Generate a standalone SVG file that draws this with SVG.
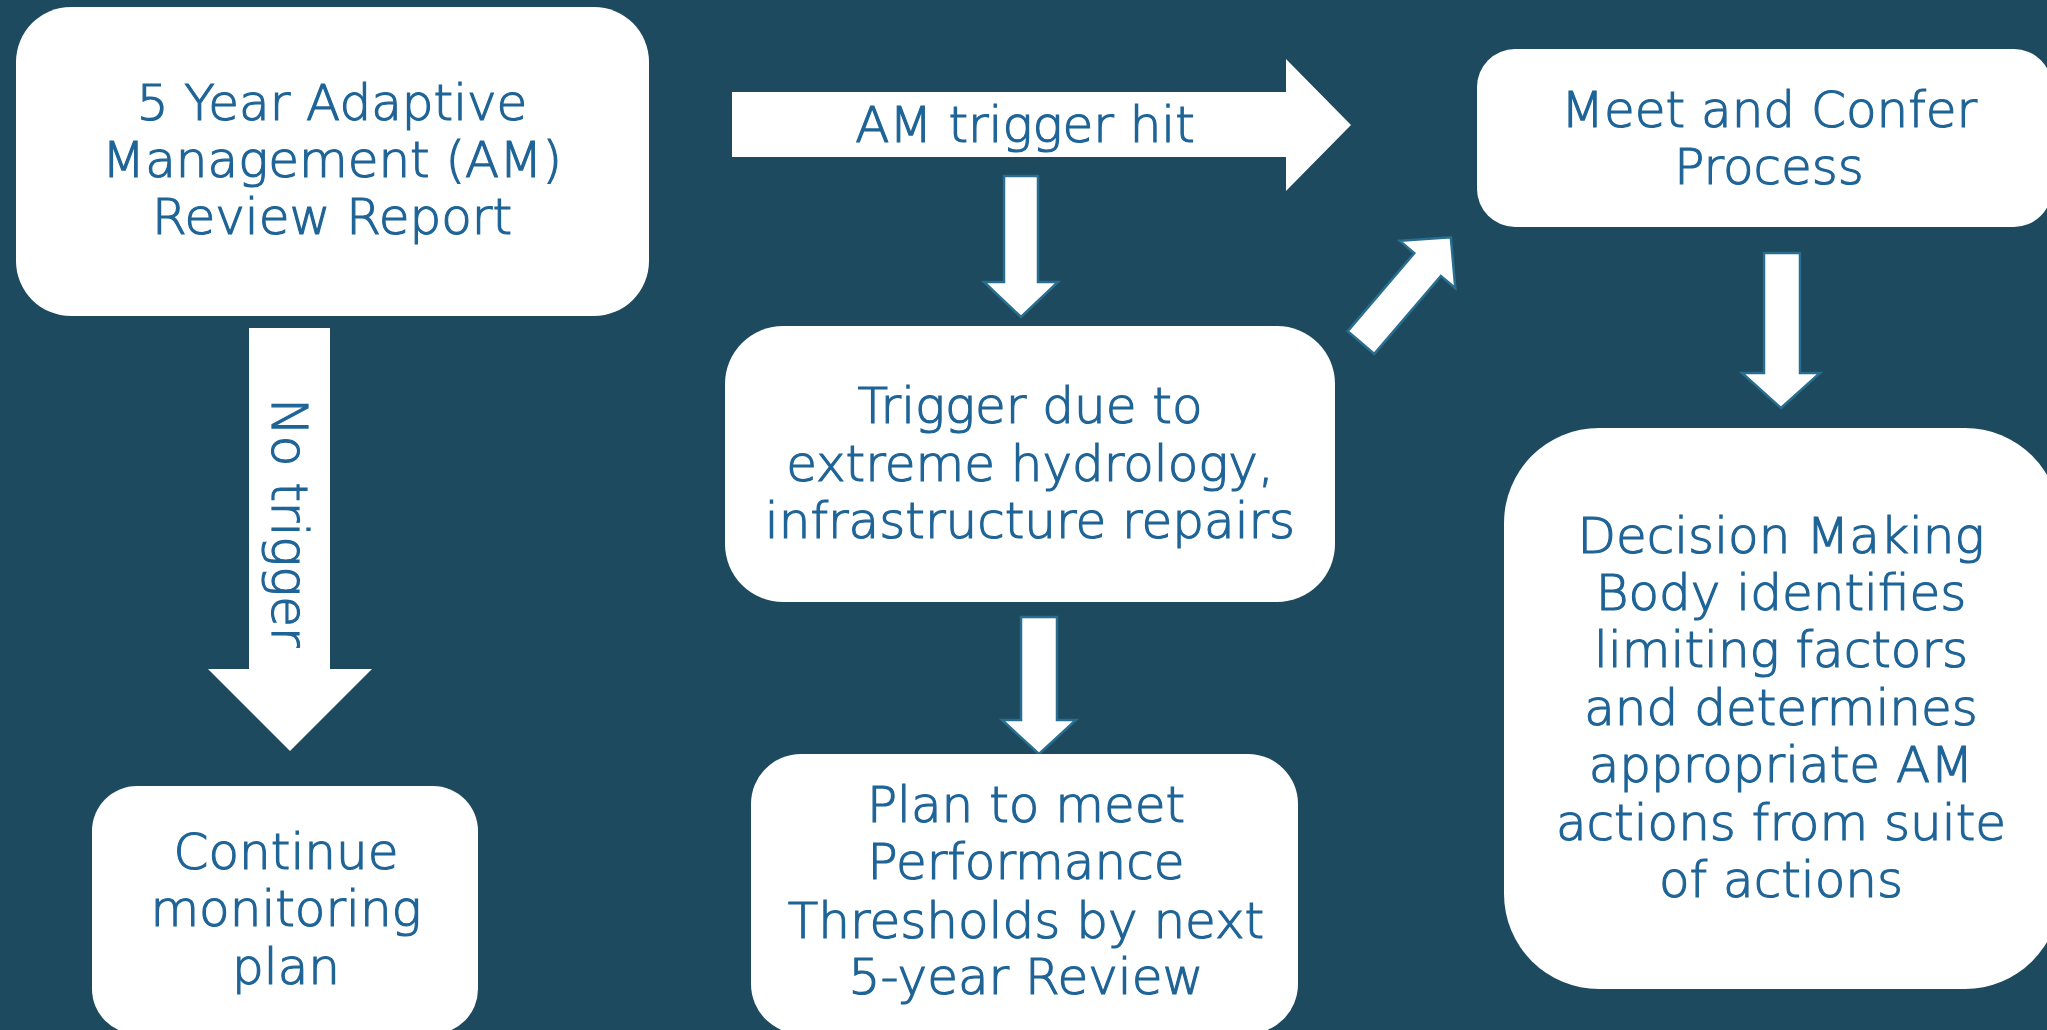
<svg xmlns="http://www.w3.org/2000/svg" width="2047" height="1030" viewBox="0 0 2047 1030">
<style>
.bg{fill:#1d4a5e}
.box{fill:#ffffff}
.t{font-family:"DejaVu Sans",sans-serif;font-size:50px;font-weight:200;fill:#1f6497;stroke:#1f6497;stroke-width:1.2;text-anchor:middle}
.big{fill:#ffffff}
.small{fill:#ffffff;stroke:#2a6e8f;stroke-width:2.5;stroke-linejoin:miter}
</style>
<rect class="bg" x="0" y="0" width="2047" height="1030"/>
<g id="connectors">
  <g id="am-trigger-hit">
    <path class="big" d="M732,92 H1286 V59 L1351,125 L1286,191 V157 H732 Z"/>
    <text class="t" x="1025" y="142">AM trigger hit</text>
  </g>
  <g id="no-trigger">
    <path class="big" d="M249,328 H330 V669 H372 L290,751 L208,669 H249 Z"/>
    <text class="t" transform="translate(272,523) rotate(90)" x="0" y="0">No trigger</text>
  </g>
  <path id="arrow-hit-to-trigger" class="small" d="M1004,176 H1038 V282 H1058 L1021,317 L984,282 H1004 Z"/>
  <path id="arrow-trigger-to-plan" class="small" d="M1021,617 H1057 V720 H1076 L1039,754 L1002,720 H1021 Z"/>
  <path id="arrow-meet-to-decision" class="small" d="M1764,253 H1800 V373 H1820 L1781,408 L1742,373 H1764 Z"/>
  <path id="arrow-trigger-to-meet" class="small" transform="translate(1361,342.5) rotate(-49.5)" d="M0,-17.5 H102.5 V-36.5 L138.3,0 L102.5,36.5 V17.5 H0 Z"/>
</g>
<g id="node-review-report">
  <rect class="box" x="16" y="7" width="633" height="309" rx="55"/>
  <text class="t" x="332" y="120">5 Year Adaptive</text>
  <text class="t" x="332" y="177">Management (AM)</text>
  <text class="t" x="332" y="234">Review Report</text>
</g>
<g id="node-meet-confer">
  <rect class="box" x="1477" y="49" width="575" height="178" rx="38"/>
  <text class="t" x="1769" y="127">Meet and Confer</text>
  <text class="t" x="1769" y="184">Process</text>
</g>
<g id="node-trigger-due">
  <rect class="box" x="725" y="326" width="610" height="276" rx="58"/>
  <text class="t" x="1030" y="423">Trigger due to</text>
  <text class="t" x="1030" y="481">extreme hydrology,</text>
  <text class="t" x="1030" y="538">infrastructure repairs</text>
</g>
<g id="node-continue">
  <rect class="box" x="92" y="786" width="386" height="248" rx="45"/>
  <text class="t" x="286" y="869">Continue</text>
  <text class="t" x="286" y="926">monitoring</text>
  <text class="t" x="286" y="984">plan</text>
</g>
<g id="node-plan">
  <rect class="box" x="751" y="754" width="547" height="280" rx="50"/>
  <text class="t" x="1026" y="822">Plan to meet</text>
  <text class="t" x="1026" y="879">Performance</text>
  <text class="t" x="1026" y="938">Thresholds by next</text>
  <text class="t" x="1026" y="994">5-year Review</text>
</g>
<g id="node-decision">
  <rect class="box" x="1504" y="428" width="556" height="561" rx="95"/>
  <text class="t" x="1781" y="553">Decision Making</text>
  <text class="t" x="1781" y="610">Body identifies</text>
  <text class="t" x="1781" y="667">limiting factors</text>
  <text class="t" x="1781" y="725">and determines</text>
  <text class="t" x="1781" y="782">appropriate AM</text>
  <text class="t" x="1781" y="840">actions from suite</text>
  <text class="t" x="1781" y="897">of actions</text>
</g>
</svg>
